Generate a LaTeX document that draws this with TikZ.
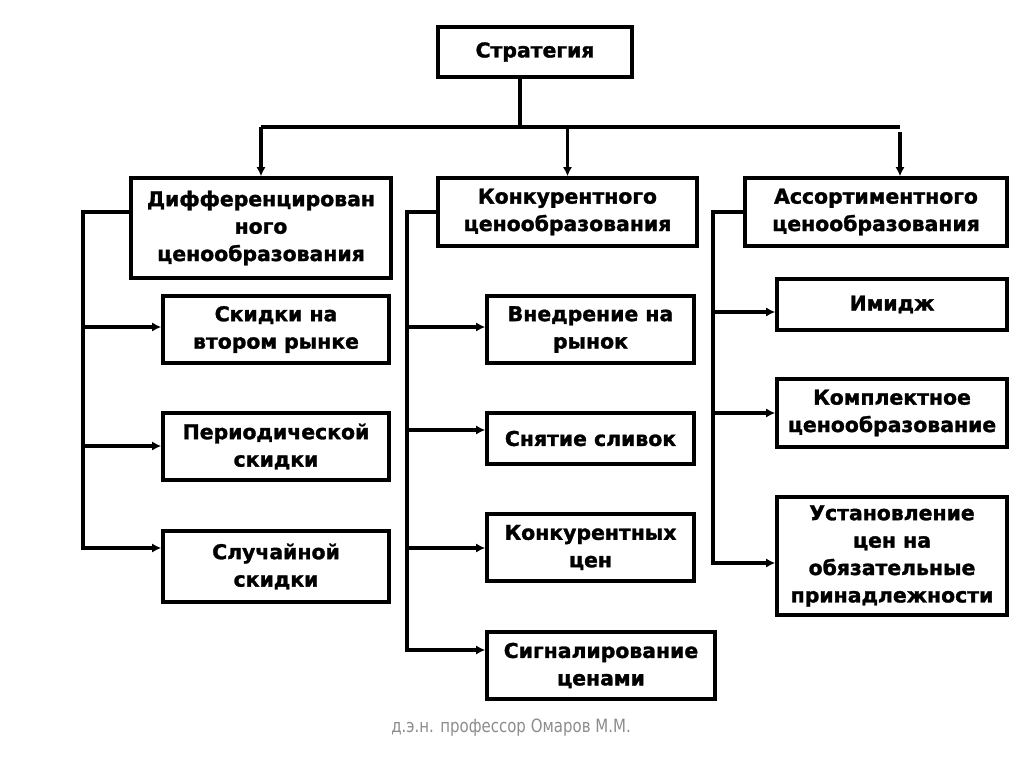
\documentclass[tikz,border=0pt]{standalone}
\usepackage{fontspec}
\setmainfont{DejaVu Sans}[BoldFeatures={FakeBold=1.5}]
\newfontfamily\signfont{DejaVu Sans}[FakeStretch=0.82]
\usetikzlibrary{arrows.meta}

\begin{document}
\begin{tikzpicture}[
    x=0.025cm, y=-0.025cm,
    box/.style={rectangle, draw, line width=2.4pt, align=center, inner sep=2pt, font=\fontsize{14.5}{19.5}\selectfont\bfseries},
    arrow/.style={-{Latex[length=6.5pt,width=6.5pt]}, line width=2.4pt},
    line/.style={line width=2.4pt},
    note/.style={font=\signfont\fontsize{13}{15}\selectfont, text=black!45}
]
\useasboundingbox (0,0) rectangle (1024,767);

% Strategy
\node[box, minimum width=4.85cm, minimum height=1.25cm] (strat) at (535,52) {Стратегия};

% Three kinds of pricing
\node[box, minimum width=6.5cm, minimum height=2.5cm] (diff) at (261,228) {Дифференцирован\\ного\\ценообразования};
\node[box, minimum width=6.475cm, minimum height=1.7cm] (konk) at (567.5,212) {Конкурентного\\ценообразования};
\node[box, minimum width=6.55cm, minimum height=1.7cm] (assort) at (876,212) {Ассортиментного\\ценообразования};

\coordinate (hub) at (520,127);
\coordinate (hubR) at (900,127);
\coordinate (hubR2) at (900,132);

\draw[line] (strat.south -| hub) -- (hub);
\draw[line] (hub -| diff.north) -- (hubR);
\draw[arrow] (hub -| diff.north) -- (diff.north);
\draw[arrow] (hub -| konk.north) -- (konk.north);
\draw[arrow] (hubR2) -- (hubR2 |- assort.north);

% Left column
\node[box, minimum width=5.65cm, minimum height=1.675cm] (skid) at (276,329.5) {Скидки на\\втором рынке};
\node[box, minimum width=5.65cm, minimum height=1.675cm] (period) at (276,446.5) {Периодической\\скидки};
\node[box, minimum width=5.65cm, minimum height=1.775cm] (sluch) at (276,566.5) {Случайной\\скидки};

\coordinate (busA) at (83,212);
\draw[arrow] (diff.west |- busA) -- (busA) |- (sluch.west |- 0,548);
\foreach \n/\yy in {skid/327, period/446}
    \draw[arrow] (busA |- 0,\yy) -- (\n.west |- 0,\yy);

% Middle column
\node[box, minimum width=5.175cm, minimum height=1.675cm] (vnedr) at (590.5,329.5) {Внедрение на\\рынок};
\node[box, minimum width=5.175cm, minimum height=1.275cm] (snyat) at (590.5,438.5) {Снятие сливок};
\node[box, minimum width=5.175cm, minimum height=1.675cm] (konkcen) at (590.5,547.5) {Конкурентных\\цен};
\node[box, minimum width=5.7cm, minimum height=1.675cm] (signal) at (601,665.5) {Сигналирование\\ценами};

\coordinate (busB) at (407,212);
\draw[arrow] (konk.west |- busB) -- (busB) |- (signal.west |- 0,650);
\foreach \n/\yy in {vnedr/327, snyat/430, konkcen/548}
    \draw[arrow] (busB |- 0,\yy) -- (\n.west |- 0,\yy);

% Right column
\node[box, minimum width=5.75cm, minimum height=1.275cm] (imidzh) at (892,304.5) {Имидж};
\node[box, minimum width=5.75cm, minimum height=1.7cm] (komplekt) at (892,413) {Комплектное\\ценообразование};
\node[box, minimum width=5.75cm, minimum height=2.95cm] (ustan) at (892,556) {Установление\\цен на\\обязательные\\принадлежности};

\coordinate (busC) at (713,212);
\draw[arrow] (assort.west |- busC) -- (busC) |- (ustan.west |- 0,563);
\foreach \n/\yy in {imidzh/312, komplekt/413}
    \draw[arrow] (busC |- 0,\yy) -- (\n.west |- 0,\yy);

% Signature
\node[note] (sign) at (511,728) {д.э.н. профессор Омаров М.М.};

\end{tikzpicture}
\end{document}
